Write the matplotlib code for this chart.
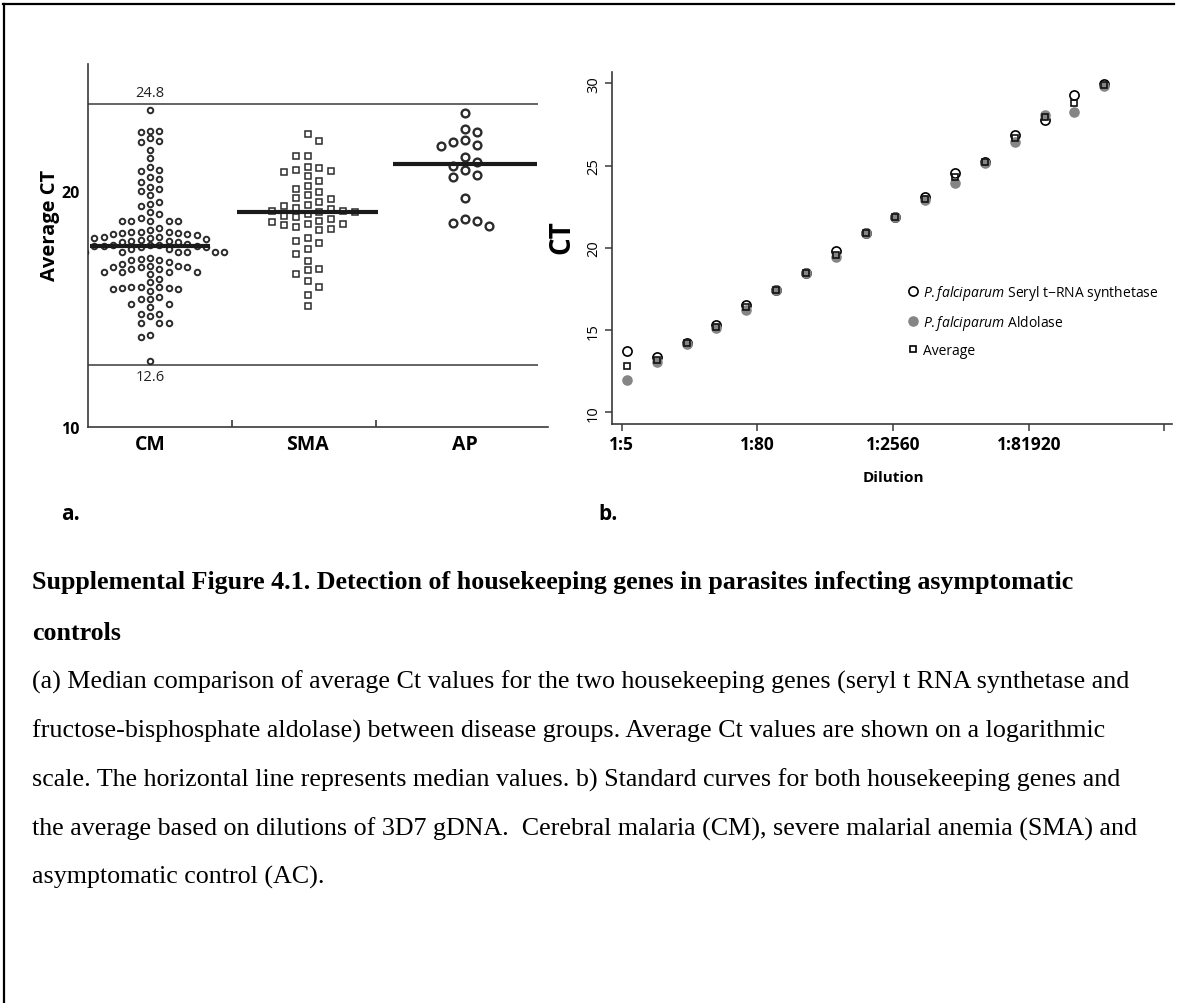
import numpy as np
import matplotlib.pyplot as plt
from matplotlib.lines import Line2D

plt.rcParams['font.family'] = ['Open Sans', 'DejaVu Sans']
plt.rcParams['mathtext.fontset'] = 'custom'
plt.rcParams['mathtext.it'] = 'Open Sans:italic'
plt.rcParams['mathtext.rm'] = 'Open Sans'

# ---- panel a: average Ct per disease group ----
groups = ["CM", "SMA", "AP"]
cm_ct = [23.42, 22.54, 22.54, 22.47, 22.22, 22.05, 22.12, 21.74, 21.39,
         20.89, 20.82, 20.99, 20.50, 20.57, 20.38, 20.17, 20.00, 20.07, 19.82,
         19.44, 19.36, 19.53, 19.01, 18.83, 19.08, 18.70, 18.70, 18.70, 18.70, 18.70,
         18.41, 18.26, 18.24, 18.26, 18.33,
         18.21, 18.17, 18.12, 18.03, 18.00, 17.92, 17.88, 17.81, 17.84, 17.88,
         17.95, 18.00, 18.03, 18.17, 18.21,
         17.60, 17.66, 17.70, 17.68, 17.64, 17.66, 17.70, 17.75, 17.53, 17.62,
         17.42, 17.39, 17.39, 17.39, 17.39, 17.39, 17.39, 17.53,
         17.14, 17.06, 16.99, 17.06, 17.10,
         16.82, 16.75, 16.75, 16.68, 16.68, 16.75, 16.82, 16.89,
         16.54, 16.54, 16.54, 16.47, 16.54, 16.26, 16.14,
         15.91, 15.86, 15.83, 15.76, 15.83, 15.86, 15.91, 15.93,
         15.48, 15.41, 15.20, 15.06, 15.20, 15.41,
         14.78, 14.68, 14.78, 14.39, 14.39, 14.39, 13.89, 13.79, 12.77]
sma_ct = [22.40, 22.09, 21.49, 21.49, 21.02, 20.88, 20.78, 20.85, 20.96,
          20.61, 20.42, 20.19, 20.07, 19.82, 19.65, 19.39, 19.36, 19.51, 19.69, 19.93,
          19.22, 19.15, 19.15, 19.25, 19.10, 19.08,
          18.92, 18.80, 18.73, 18.87, 19.01, 18.59, 18.47, 18.33, 18.69, 18.38, 18.55, 18.59,
          17.98, 17.78, 17.88, 17.53, 17.32, 17.03, 16.47, 16.65, 16.68,
          16.19, 15.91, 15.58, 15.13]
ap_ct = [23.29, 22.50, 22.61, 22.06, 21.89, 21.94, 22.15, 21.43, 21.22,
         20.88, 20.58, 20.67, 21.05, 19.69, 18.80, 18.64, 18.50, 18.72]
cutoff_labels = ["24.8", "12.6"]
cutoff_levels = [23.67, 12.6]

# ---- panel b: standard curves over serial dilutions ----
seryl_ct = [13.71, 13.34, 14.19, 15.31, 16.52, 17.45, 18.45, 19.81, 20.88,
            21.85, 23.07, 24.55, 25.23, 26.88, 27.77, 29.29, 29.95]
aldolase_ct = [11.96, 13.04, 14.17, 15.14, 16.22, 17.45, 18.45, 19.42, 20.88,
               21.85, 22.93, 23.92, 25.16, 26.41, 28.07, 28.24, 29.85]
average_ct = [12.83, 13.18, 14.19, 15.20, 16.38, 17.45, 18.45, 19.56, 20.88,
              21.85, 22.99, 24.32, 25.23, 26.68, 27.93, 28.78, 29.90]
dilution_labels = ["1:5", "1:80", "1:2560", "1:81920", ""]

caption = [
    ("Supplemental Figure 4.1. Detection of housekeeping genes in parasites infecting asymptomatic", True),
    ("controls", True),
    ("(a) Median comparison of average Ct values for the two housekeeping genes (seryl t RNA synthetase and", False),
    ("fructose-bisphosphate aldolase) between disease groups. Average Ct values are shown on a logarithmic", False),
    ("scale. The horizontal line represents median values. b) Standard curves for both housekeeping genes and", False),
    ("the average based on dilutions of 3D7 gDNA.  Cerebral malaria (CM), severe malarial anemia (SMA) and", False),
    ("asymptomatic control (AC).", False),
]

W, H = 1186, 1004
fig = plt.figure(figsize=(W / 100, H / 100), dpi=100)


def box(l, t, r, b):
    return [l / W, 1 - b / H, (r - l) / W, (b - t) / H]


def swarm_x(ax, values, center, step_px, min_dy):
    """column based beeswarm, offsets computed in pixel space"""
    vals = np.asarray(values, float)
    ys = ax.transData.transform(np.column_stack([np.full(len(vals), center), vals]))[:, 1]
    cols = {}
    ks = np.zeros(len(vals))
    flip = 1
    for i in np.argsort(-ys):
        y = ys[i]
        for level in range(60):
            cands = [0] if level == 0 else [flip * level, -flip * level]
            done = False
            for k in cands:
                if all(abs(y - yy) >= min_dy for yy in cols.get(k, [])):
                    cols.setdefault(k, []).append(y)
                    ks[i] = k
                    if level > 0:
                        flip = -flip
                    done = True
                    break
            if done:
                break
    x0 = ax.transData.transform((center, 0))[0]
    pts = np.column_stack([x0 + ks * step_px, ys])
    return ax.transData.inverted().transform(pts)[:, 0]


ink = "#2b2b2b"

# panel a
ax1 = fig.add_axes(box(88, 65, 548, 427.7))
ax1.set_xlim(-0.394, 2.527)
ax1.set_ylim(10, 25.37)

styles = [
    dict(marker="o", ms=4.0, mew=1.4, step=9.3, dy=7.5),
    dict(marker="s", ms=5.0, mew=1.1, step=11.8, dy=8.5),
    dict(marker="o", ms=5.6, mew=1.7, step=11.8, dy=9.0),
]
half_w = [0.38, 0.45, 0.46]
for gi, vals in enumerate([cm_ct, sma_ct, ap_ct]):
    st = styles[gi]
    xs = swarm_x(ax1, vals, gi, st["step"], st["dy"])
    ax1.plot(xs, vals, ls="none", marker=st["marker"], ms=st["ms"], mew=st["mew"],
             mfc="white", mec=ink, zorder=3)
    med = np.median(vals)
    ax1.hlines(med, gi - half_w[gi], gi + half_w[gi], color="#1a1a1a", lw=3.0, zorder=5)

for lab, lev, dy in zip(cutoff_labels, cutoff_levels, [4, -4]):
    ax1.hlines(lev, -0.394, 2.463, color="#3a3a3a", lw=1.1, zorder=2)
    ax1.annotate(lab, (0, lev), xytext=(0, dy), textcoords="offset pixels",
                 ha="center", va="bottom" if dy > 0 else "top", fontsize=10.5, color="#222222")

for s in ["top", "right"]:
    ax1.spines[s].set_visible(False)
for s in ["left", "bottom"]:
    ax1.spines[s].set_color("#3a3a3a")
    ax1.spines[s].set_linewidth(1.2)
ax1.set_yticks([10, 20])
ax1.set_yticklabels(["10", "20"], fontsize=11.5, fontweight="bold")
ax1.tick_params(axis="y", length=0, pad=6)
ax1.set_xticks([0, 1, 2])
ax1.set_xticklabels(groups, fontsize=14, fontweight="bold")
ax1.tick_params(axis="x", which="major", length=0, pad=5)
ax1.set_xticks([0.52, 1.435], minor=True)
ax1.tick_params(axis="x", which="minor", direction="in", length=5, width=1.2, color="#3a3a3a")

fig.text(50 / W, 1 - 225 / H, "Average CT", rotation=90, ha="center", va="center",
         fontsize=14.5, fontweight="bold")

# panel b
ax2 = fig.add_axes(box(612, 73, 1172, 425))
idx = np.arange(len(seryl_ct))
ax2.set_xlim(-0.503, 18.27)
ax2.set_ylim(9.29, 30.69)
ax2.plot(idx, seryl_ct, ls="none", marker="o", ms=6.6, mfc="none", mec="black", mew=1.2, zorder=3)
ax2.plot(idx, aldolase_ct, ls="none", marker="o", ms=6.6, mfc="#858585", mec="#858585", zorder=4)
ax2.plot(idx, average_ct, ls="none", marker="s", ms=5.0, mfc="none", mec="#111111", mew=1.2, zorder=5)

for s in ["top", "right"]:
    ax2.spines[s].set_visible(False)
for s in ["left", "bottom"]:
    ax2.spines[s].set_color("#3a3a3a")
    ax2.spines[s].set_linewidth(1.2)
ax2.set_yticks([10, 15, 20, 25, 30])
ax2.set_yticklabels(["10", "15", "20", "25", "30"], rotation=90, va="center", fontsize=10.5)
ax2.tick_params(axis="y", length=5, width=1.1, color="#3a3a3a", pad=3)
ax2.set_xticks([-0.18, 4.36, 8.92, 13.48, 18.0])
ax2.set_xticklabels(dilution_labels, fontsize=12.5, fontweight="bold")
ax2.tick_params(axis="x", length=5, width=1.1, color="#3a3a3a", pad=3)

handles = [
    Line2D([], [], ls="none", marker="o", ms=6.6, mfc="none", mec="black", mew=1.2),
    Line2D([], [], ls="none", marker="o", ms=6.6, mfc="#858585", mec="#858585"),
    Line2D([], [], ls="none", marker="s", ms=4.8, mfc="none", mec="black", mew=1.2),
]
labels = [r"$\it{P.falciparum}$ Seryl t−RNA synthetase",
          r"$\it{P.falciparum}$ Aldolase",
          "Average"]
ax2.legend(handles, labels, loc="upper left", bbox_to_anchor=(0.515, 0.42), frameon=False,
           borderpad=0, handlelength=0.8, handletextpad=0.3, labelspacing=0.8, fontsize=10)

fig.text(562 / W, 1 - 237 / H, "CT", rotation=90, ha="center", va="center",
         fontsize=20, fontweight="bold")
fig.text(893 / W, 1 - 478 / H, "Dilution", ha="center", va="center", fontsize=11, fontweight="bold")
fig.text(70 / W, 1 - 515 / H, "a.", ha="center", va="center", fontsize=15, fontweight="bold")
fig.text(608 / W, 1 - 515 / H, "b.", ha="center", va="center", fontsize=15, fontweight="bold")

# caption
line_y = [583, 633, 682, 731, 780, 829, 877]
for (txt, bold), y in zip(caption, line_y):
    fig.text(32 / W, 1 - y / H, txt, ha="left", va="center", family="Liberation Serif",
             fontsize=18.7, fontweight="bold" if bold else "normal")

# page border
fig.add_artist(Line2D([3 / W, 1174 / W], [1 - 5 / H, 1 - 5 / H], color="black", lw=1.6))
fig.add_artist(Line2D([4 / W, 4 / W], [0, 1 - 5 / H], color="black", lw=1.6))

fig.savefig("out.png", dpi=100)
